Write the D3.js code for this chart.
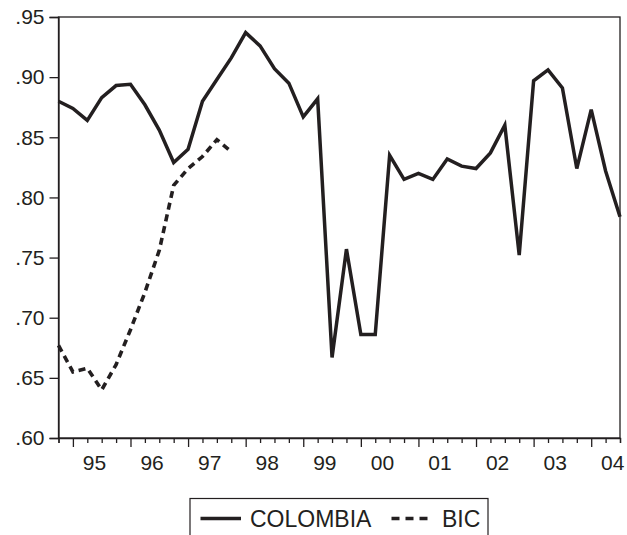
<!DOCTYPE html>
<html><head><meta charset="utf-8">
<script src="https://cdn.jsdelivr.net/npm/d3@7"></script>
<style>html,body{margin:0;padding:0;background:#fff;}svg{display:block;}</style>
</head><body>
<svg id="chart" width="627" height="535"></svg>
<script>
// ---- data ----
const quarters = ["1994Q4",
 "1995Q1","1995Q2","1995Q3","1995Q4","1996Q1","1996Q2","1996Q3","1996Q4",
 "1997Q1","1997Q2","1997Q3","1997Q4","1998Q1","1998Q2","1998Q3","1998Q4",
 "1999Q1","1999Q2","1999Q3","1999Q4","2000Q1","2000Q2","2000Q3","2000Q4",
 "2001Q1","2001Q2","2001Q3","2001Q4","2002Q1","2002Q2","2002Q3","2002Q4",
 "2003Q1","2003Q2","2003Q3","2003Q4","2004Q1","2004Q2","2004Q3"];
const colombia = [.880,.874,.864,.883,.893,.894,.877,.856,.829,.840,
 .880,.898,.916,.937,.926,.907,.895,.867,.882,.667,
 .757,.686,.686,.835,.815,.820,.815,.832,.826,.824,
 .837,.860,.752,.897,.906,.891,.824,.873,.822,.784];
const bic = [.677,.655,.658,.640,.661,.690,.721,.756,.810,.824,.834,.848,.838,
 null,null,null,null,null,null,null,null,null,null,null,null,null,null,null,
 null,null,null,null,null,null,null,null,null,null,null,null];
const yearLabels = ["95","96","97","98","99","00","01","02","03","04"];
const yTicks = [.60,.65,.70,.75,.80,.85,.90,.95];
const seriesNames = ["COLOMBIA","BIC"];

// ---- layout ----
const ink = "#231f20";
const L = 58.5, R = 620, T = 17, B = 438;
const svg = d3.select("#chart");
const x = d3.scaleLinear().domain([0, quarters.length - 1]).range([L, R]);
const y = d3.scaleLinear().domain([0.60, 0.95]).range([B, T]);

// frame
svg.append("rect").attr("x", L).attr("y", T).attr("width", R - L).attr("height", B - T)
  .attr("fill", "none").attr("stroke", ink).attr("stroke-width", 1.3);

// y axis
const yAxis = d3.axisLeft(y).tickValues(yTicks).tickSize(9).tickPadding(5)
  .tickFormat(d => d3.format(".2f")(d).replace(/^0/, ""));
const gy = svg.append("g").attr("transform", `translate(${L},0)`).call(yAxis);
gy.select(".domain").attr("stroke", ink).attr("stroke-width", 1.3);
gy.selectAll(".tick line").attr("stroke", ink).attr("stroke-width", 1.3);
gy.selectAll(".tick text").attr("fill", ink).attr("font-family", "Liberation Sans, Arial, sans-serif")
  .attr("font-size", 21);

// x axis: minor ticks each quarter, major at Q1
const idx = d3.range(quarters.length);
const minor = idx.filter(i => !quarters[i].endsWith("Q1"));
const major = idx.filter(i => quarters[i].endsWith("Q1"));
const gxMinor = svg.append("g").attr("transform", `translate(0,${B})`)
  .call(d3.axisBottom(x).tickValues(minor).tickSize(5).tickFormat(""));
gxMinor.select(".domain").attr("stroke", ink).attr("stroke-width", 1.3);
gxMinor.selectAll(".tick line").attr("stroke", ink).attr("stroke-width", 1.3);
const gxMajor = svg.append("g").attr("transform", `translate(0,${B})`)
  .call(d3.axisBottom(x).tickValues(major).tickSize(9).tickFormat(""));
gxMajor.select(".domain").remove();
gxMajor.selectAll(".tick line").attr("stroke", ink).attr("stroke-width", 1.3);
// year labels centred in each year
svg.append("g").selectAll("text").data(yearLabels).join("text")
  .attr("x", (d, k) => x(major[k] + 1.5))
  .attr("y", 470)
  .attr("text-anchor", "middle")
  .attr("fill", ink)
  .attr("font-family", "Liberation Sans, Arial, sans-serif")
  .attr("font-size", 21)
  .text(d => d);

// lines
const line = d3.line().defined(d => d != null).x((d, i) => x(i)).y(d => y(d));
svg.append("path").datum(bic).attr("d", line).attr("fill", "none")
  .attr("stroke", ink).attr("stroke-width", 3.6).attr("stroke-dasharray", "7,5");
svg.append("path").datum(colombia).attr("d", line).attr("fill", "none")
  .attr("stroke", ink).attr("stroke-width", 3.5).attr("stroke-linejoin", "miter");

// legend
const lg = svg.append("g");
lg.append("rect").attr("x", 190).attr("y", 498.5).attr("width", 298).attr("height", 50)
  .attr("fill", "none").attr("stroke", ink).attr("stroke-width", 1.2);
lg.append("line").attr("x1", 200.5).attr("x2", 241).attr("y1", 518.5).attr("y2", 518.5)
  .attr("stroke", ink).attr("stroke-width", 3.4);
lg.append("line").attr("x1", 391.5).attr("x2", 430).attr("y1", 518.5).attr("y2", 518.5)
  .attr("stroke", ink).attr("stroke-width", 3.4).attr("stroke-dasharray", "8,6");
lg.selectAll("text").data(seriesNames).join("text")
  .attr("x", (d, i) => i === 0 ? 250 : 442)
  .attr("y", 527)
  .attr("fill", ink)
  .attr("font-family", "Liberation Sans, Arial, sans-serif")
  .attr("font-size", 23)
  .text(d => d);
</script>
</body></html>
